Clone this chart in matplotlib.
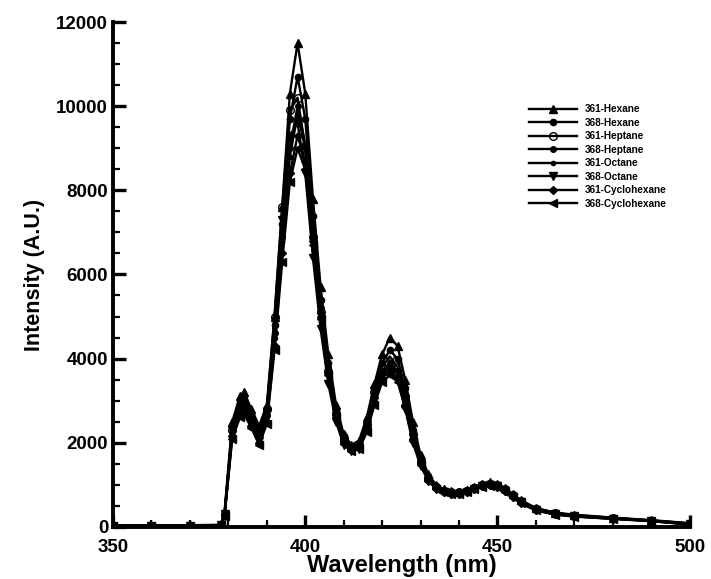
import matplotlib
matplotlib.use("Agg")
import matplotlib.pyplot as plt
from matplotlib.ticker import MultipleLocator

plt.rcParams['font.family'] = ['Liberation Sans', 'DejaVu Sans']
plt.rcParams['font.weight'] = 'bold'

wavelength = [350, 360, 370, 378, 379, 381, 383, 384, 386, 388,
              390, 392, 394, 396, 398, 400, 402, 404, 406, 408,
              410, 412, 414, 416, 418, 420, 422, 424, 426, 428,
              430, 432, 434, 436, 438, 440, 442, 444, 446, 448,
              450, 452, 454, 456, 460, 465, 470, 480, 490, 500]

hexane_361 = [40, 40, 40, 50, 350, 2500, 3100, 3200, 2800, 2400,
              2900, 5000, 7600, 10300, 11500, 10300, 7800, 5700, 4100, 2900,
              2200, 1950, 2050, 2600, 3400, 4100, 4500, 4300, 3500, 2500,
              1700, 1250, 1000, 900, 850, 840, 880, 950, 1030, 1060,
              1020, 920, 780, 640, 450, 340, 290, 220, 160, 90]
hexane_368 = [30, 30, 30, 45, 320, 2400, 2950, 3050, 2700, 2300,
              2800, 4800, 7200, 9700, 10700, 9700, 7400, 5400, 3900, 2800,
              2150, 1900, 2000, 2500, 3300, 3900, 4200, 4000, 3300, 2300,
              1600, 1200, 980, 880, 840, 830, 870, 940, 1010, 1040,
              1000, 900, 760, 620, 440, 330, 280, 215, 155, 80]
heptane_361 = [30, 30, 30, 40, 300, 2300, 2850, 2950, 2600, 2200,
               2800, 5000, 7600, 9900, 10200, 9000, 6900, 5100, 3700, 2700,
               2100, 1880, 1950, 2450, 3200, 3800, 4050, 3800, 3100, 2200,
               1550, 1150, 950, 860, 820, 820, 860, 930, 1000, 1030,
               990, 890, 750, 610, 430, 320, 270, 210, 150, 80]
heptane_368 = [30, 30, 30, 40, 290, 2250, 2800, 2900, 2550, 2150,
               2650, 4600, 6900, 9000, 10000, 9100, 7000, 5200, 3800, 2750,
               2100, 1870, 1930, 2400, 3100, 3700, 3900, 3700, 3000, 2150,
               1520, 1130, 940, 850, 810, 810, 850, 920, 990, 1020,
               980, 880, 740, 600, 420, 320, 270, 210, 150, 70]
octane_361 = [20, 20, 20, 35, 280, 2200, 2750, 2850, 2500, 2100,
              2600, 4500, 6800, 8800, 9800, 9000, 6900, 5100, 3700, 2700,
              2050, 1850, 1900, 2350, 3050, 3650, 3850, 3650, 2950, 2100,
              1500, 1120, 930, 840, 800, 800, 840, 910, 980, 1010,
              970, 870, 730, 590, 410, 310, 260, 200, 145, 60]
octane_368 = [20, 20, 20, 35, 300, 2300, 2800, 2850, 2450, 2050,
              2700, 4900, 7300, 9300, 9600, 8400, 6400, 4700, 3400, 2500,
              1950, 1800, 1850, 2300, 3000, 3600, 3750, 3500, 2800, 2000,
              1450, 1100, 910, 830, 790, 790, 830, 900, 970, 1000,
              960, 860, 720, 580, 400, 300, 250, 195, 140, 60]
cyclohexane_361 = [20, 20, 20, 30, 260, 2150, 2650, 2750, 2400, 2000,
                   2500, 4300, 6500, 8400, 9300, 8700, 6800, 5000, 3650, 2650,
                   2000, 1820, 1870, 2300, 2950, 3550, 3700, 3550, 2900, 2100,
                   1500, 1120, 920, 830, 790, 790, 830, 900, 960, 990,
                   950, 850, 710, 570, 400, 300, 250, 195, 140, 60]
cyclohexane_368 = [20, 20, 20, 30, 250, 2100, 2600, 2700, 2350, 1950,
                   2450, 4200, 6300, 8200, 9000, 8500, 6700, 4950, 3600, 2600,
                   1980, 1800, 1850, 2250, 2900, 3450, 3600, 3450, 2850, 2050,
                   1480, 1100, 910, 820, 780, 780, 820, 890, 950, 980,
                   940, 840, 700, 560, 390, 290, 245, 190, 135, 55]

labels = ["361-Hexane", "368-Hexane", "361-Heptane", "368-Heptane",
          "361-Octane", "368-Octane", "361-Cyclohexane", "368-Cyclohexane"]
series = [hexane_361, hexane_368, heptane_361, heptane_368,
          octane_361, octane_368, cyclohexane_361, cyclohexane_368]
markers = ['^', 'o', 'o', 'o', '.', 'v', 'D', '<']
fills = ['k', 'k', 'none', 'k', 'k', 'k', 'k', 'k']
sizes = [5.5, 4.5, 5.5, 4, 6, 5.5, 4, 5.5]

fig = plt.figure(figsize=(7.11, 5.79), dpi=100)
ax = fig.add_axes([0.159, 0.09, 0.811, 0.872])

for y, lab, m, fc, ms in zip(series, labels, markers, fills, sizes):
    ax.plot(wavelength, y, color='k', lw=1.7, marker=m, ms=ms,
            markerfacecolor=fc, markeredgecolor='k', label=lab)

ax.set_xlim(350, 500)
ax.set_ylim(0, 12000)
ax.xaxis.set_major_locator(MultipleLocator(50))
ax.xaxis.set_minor_locator(MultipleLocator(10))
ax.yaxis.set_major_locator(MultipleLocator(2000))
ax.yaxis.set_minor_locator(MultipleLocator(500))

for side in ['top', 'right']:
    ax.spines[side].set_visible(False)
for side in ['left', 'bottom']:
    ax.spines[side].set_linewidth(2.8)

ax.tick_params(which='major', direction='in', length=9, width=2.4, labelsize=13.5)
ax.tick_params(axis='x', which='major', pad=9)
ax.tick_params(which='minor', direction='in', length=5, width=1.6)
for t in ax.get_xticklabels() + ax.get_yticklabels():
    t.set_fontweight('bold')

ax.set_xlabel("Wavelength (nm)", fontsize=17, fontweight='bold', labelpad=-2)
ax.set_ylabel("Intensity (A.U.)", fontsize=15.5, fontweight='bold', labelpad=8)

leg = ax.legend(loc='upper left', bbox_to_anchor=(0.705, 0.855), frameon=False,
                fontsize=7.2, handlelength=4.8, labelspacing=0.35, handletextpad=0.8)
for t in leg.get_texts():
    t.set_fontweight('bold')

fig.savefig("out.png", dpi=100)
